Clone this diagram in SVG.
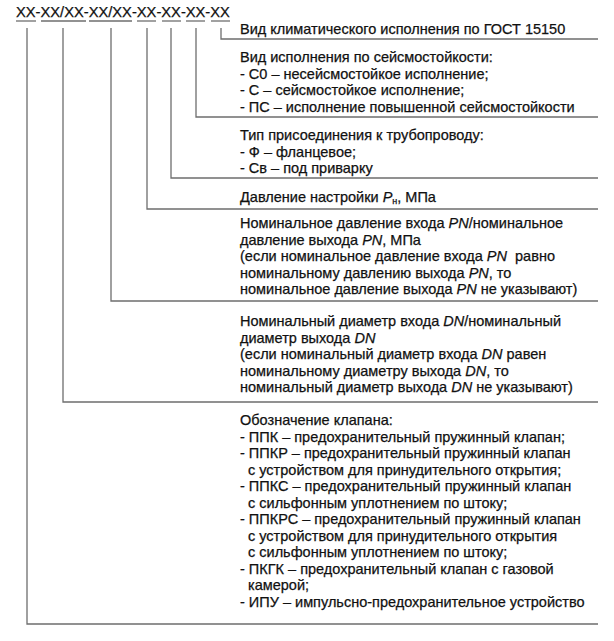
<svg xmlns="http://www.w3.org/2000/svg" width="614" height="641" viewBox="0 0 614 641">
<style>
text{font-family:"Liberation Sans",Arial,sans-serif;font-size:14.5px;fill:#111;stroke:#111;stroke-width:0.25}
.i{font-style:italic}
.c{stroke:#6e6e6e;stroke-width:1.3;fill:none}
.u{stroke:#6e6e6e;stroke-width:1.3}
</style>
<rect width="614" height="641" fill="#fff"/>
<g id="code">
<text x="16" y="17" style="font-size:14.7px">XX-XX/XX-XX/XX-XX-XX-XX-XX</text>
<line class="u" x1="16" y1="21" x2="36" y2="21"/>
<line class="u" x1="41" y1="21" x2="86" y2="21"/>
<line class="u" x1="89" y1="21" x2="132" y2="21"/>
<line class="u" x1="137" y1="21" x2="156" y2="21"/>
<line class="u" x1="162" y1="21" x2="181" y2="21"/>
<line class="u" x1="186" y1="21" x2="205" y2="21"/>
<line class="u" x1="211" y1="21" x2="230" y2="21"/>
</g>
<g id="connectors">
<path class="c" d="M221,28 V39 H598"/>
<path class="c" d="M196,28 V117 H598"/>
<path class="c" d="M171,28 V178 H598"/>
<path class="c" d="M147,28 V209 H598"/>
<path class="c" d="M111,28 V301 H598"/>
<path class="c" d="M63,28 V402 H598"/>
<path class="c" d="M27,28 V624 H598"/>
</g>
<g id="climate">
<text x="240" y="34">Вид климатического исполнения по ГОСТ 15150</text>
</g>
<g id="seismic">
<text x="240" y="62">Вид исполнения по сейсмостойкости:</text>
<text x="240" y="78.5">- С0 – несейсмостойкое исполнение;</text>
<text x="240" y="95">- С – сейсмостойкое исполнение;</text>
<text x="240" y="111.5">- ПС – исполнение повышенной сейсмостойкости</text>
</g>
<g id="connection">
<text x="240" y="140">Тип присоединения к трубопроводу:</text>
<text x="240" y="156.5">- Ф – фланцевое;</text>
<text x="240" y="173">- Св – под приварку</text>
</g>
<g id="setpressure">
<text x="240" y="202">Давление настройки <tspan class="i">P</tspan><tspan style="font-size:9px" dy="2">н</tspan><tspan dy="-2">, МПа</tspan></text>
</g>
<g id="pn">
<text x="240" y="228">Номинальное давление входа <tspan class="i">PN</tspan>/номинальное</text>
<text x="240" y="244.5">давление выхода <tspan class="i">PN</tspan>, МПа</text>
<text x="240" y="261">(если номинальное давление входа <tspan class="i">PN</tspan>&#160; равно</text>
<text x="240" y="277.5">номинальному давлению выхода <tspan class="i">PN</tspan>, то</text>
<text x="240" y="294">номинальное давление выхода <tspan class="i">PN</tspan> не указывают)</text>
</g>
<g id="dn">
<text x="240" y="326">Номинальный диаметр входа <tspan class="i">DN</tspan>/номинальный</text>
<text x="240" y="342.5">диаметр выхода <tspan class="i">DN</tspan></text>
<text x="240" y="359">(если номинальный диаметр входа <tspan class="i">DN</tspan> равен</text>
<text x="240" y="375.5">номинальному диаметру выхода <tspan class="i">DN</tspan>, то</text>
<text x="240" y="392">номинальный диаметр выхода <tspan class="i">DN</tspan> не указывают)</text>
</g>
<g id="valve">
<text x="240" y="425">Обозначение клапана:</text>
<text x="240" y="441.5">- ППК – предохранительный пружинный клапан;</text>
<text x="240" y="458">- ППКР – предохранительный пружинный клапан</text>
<text x="248" y="474.5">с устройством для принудительного открытия;</text>
<text x="240" y="491">- ППКС – предохранительный пружинный клапан</text>
<text x="248" y="507.5">с сильфонным уплотнением по штоку;</text>
<text x="240" y="524">- ППКРС – предохранительный пружинный клапан</text>
<text x="248" y="540.5">с устройством для принудительного открытия</text>
<text x="248" y="557">с сильфонным уплотнением по штоку;</text>
<text x="240" y="573.5">- ПКГК – предохранительный клапан с газовой</text>
<text x="248" y="590">камерой;</text>
<text x="240" y="606.5">- ИПУ – импульсно-предохранительное устройство</text>
</g>
</svg>
